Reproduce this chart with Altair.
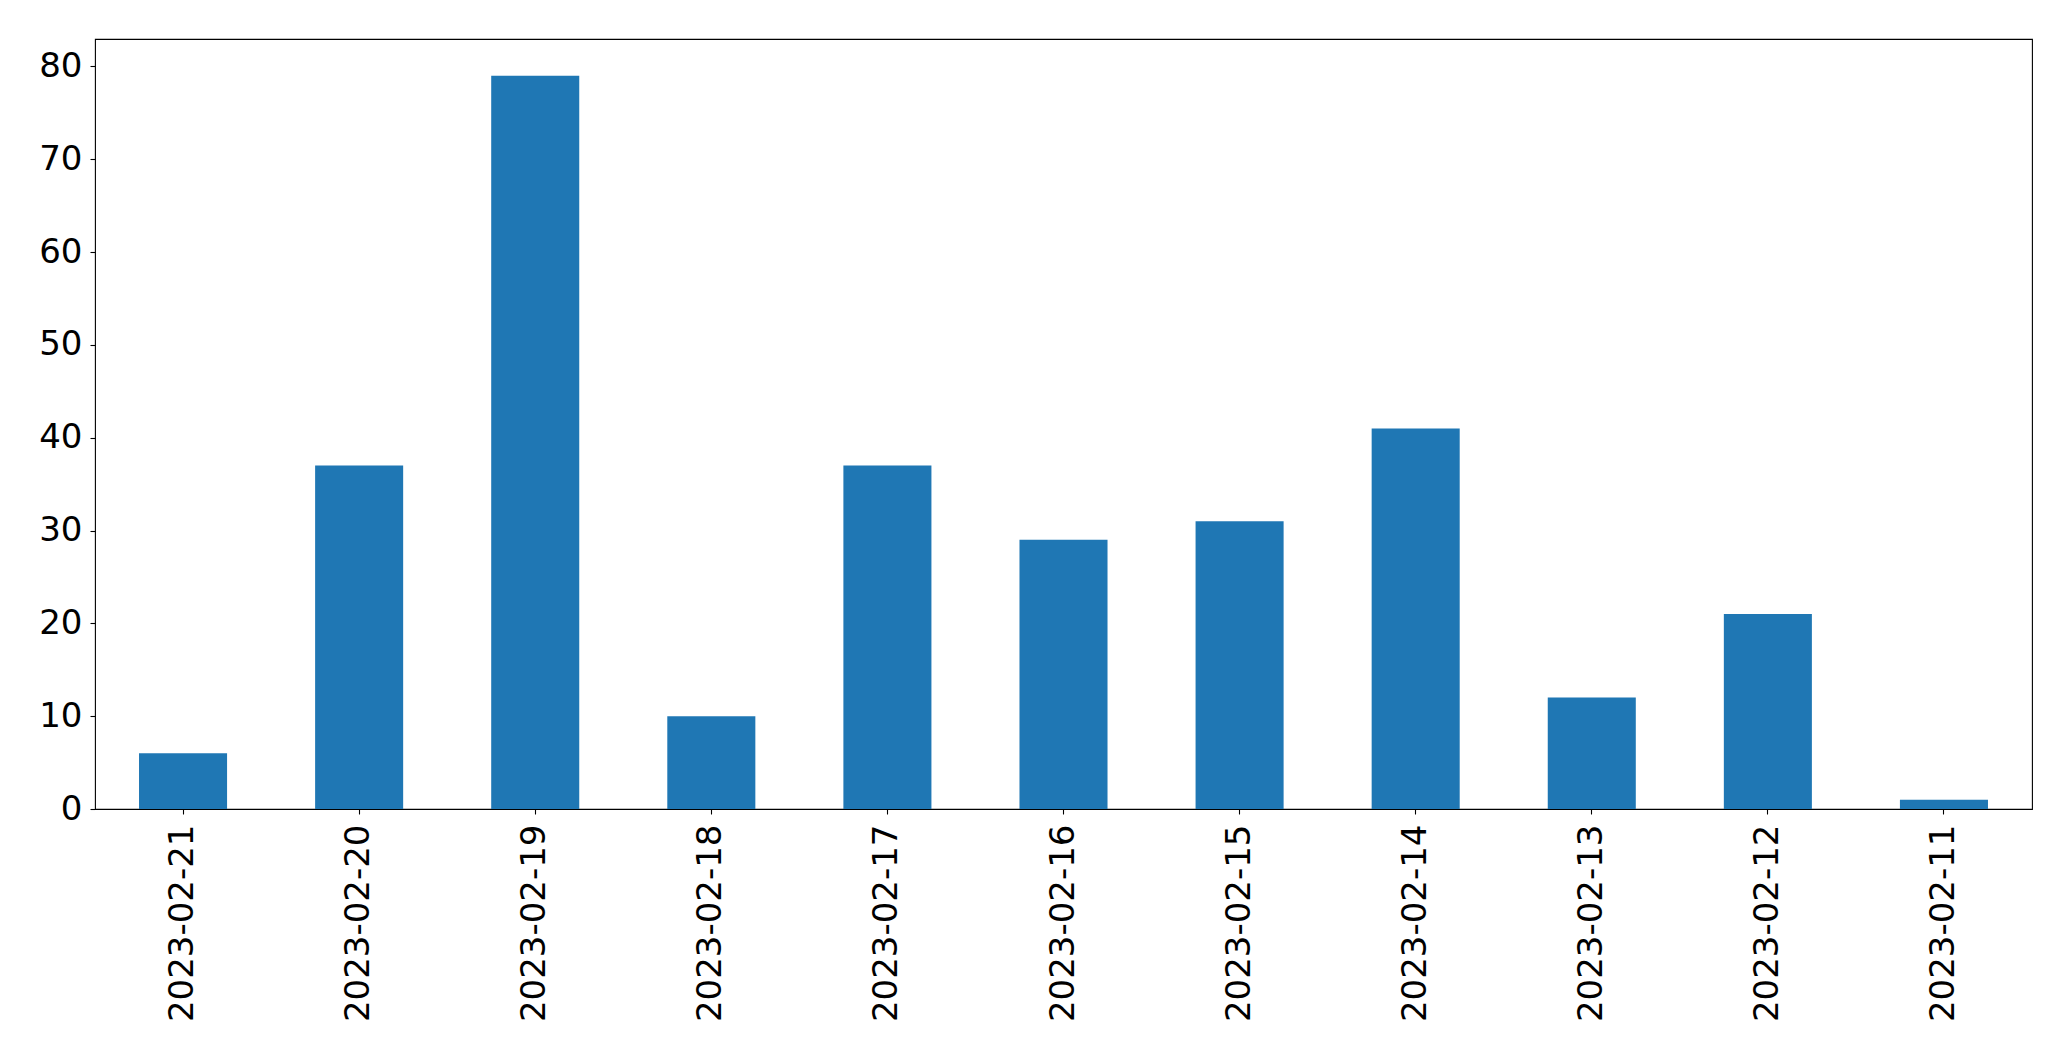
import altair as alt
import pandas as pd

dates = ["2023-02-21", "2023-02-20", "2023-02-19", "2023-02-18", "2023-02-17",
         "2023-02-16", "2023-02-15", "2023-02-14", "2023-02-13", "2023-02-12",
         "2023-02-11"]
counts = [6, 37, 79, 10, 37, 29, 31, 41, 12, 21, 1]
y_ticks = [0, 10, 20, 30, 40, 50, 60, 70, 80]

df = pd.DataFrame({"date": dates, "count": counts})

chart = alt.Chart(df).mark_bar(color="#1f77b4").encode(
    x=alt.X("date:N", sort=dates,
            scale=alt.Scale(paddingInner=0.5, paddingOuter=0.25),
            axis=alt.Axis(title=None, labelAngle=270, labelAlign="right",
                          labelBaseline="middle", labelFontSize=34,
                          labelFont="DejaVu Sans", labelColor="black",
                          labelLimit=0, labelPadding=10, tickSize=5,
                          tickColor="black", tickWidth=1.1, domain=False,
                          grid=False)),
    y=alt.Y("count:Q", scale=alt.Scale(domain=[0, 82.95], nice=False, zero=True),
            axis=alt.Axis(title=None, values=y_ticks, labelFontSize=34,
                          labelFont="DejaVu Sans", labelColor="black",
                          labelPadding=8, tickSize=5, tickColor="black",
                          tickWidth=1.1, domain=False, grid=False)),
).properties(
    width=1937, height=770,
    autosize=alt.AutoSizeParams(type="none"),
    padding={"left": 87, "top": 31, "right": 30, "bottom": 230},
).configure(
    background="white",
    view=alt.ViewConfig(stroke="black", strokeWidth=1.1),
)

chart.save("out.html", embed_options={"renderer": "svg", "actions": False})
